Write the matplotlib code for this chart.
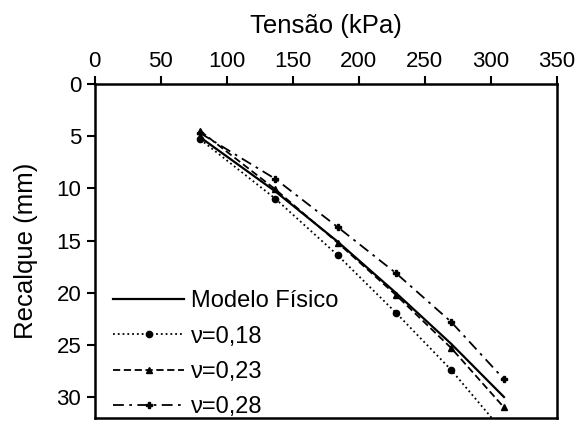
import numpy as np
import matplotlib
matplotlib.use("Agg")
import matplotlib.pyplot as plt

plt.rcParams['font.family'] = ['Liberation Sans', 'DejaVu Sans']

# tensão (kPa)
tensao = [80, 137, 184, 228, 270, 310]

# recalque (mm)
modelo_fisico = [5.1, 10.3, 15.1, 20.0, 24.9, 30.0]
nu_018 = [5.3, 11.0, 16.4, 21.9, 27.4, 33.4]
nu_023 = [4.5, 10.1, 15.2, 20.2, 25.3, 31.0]
nu_028 = [4.7, 9.1, 13.7, 18.1, 22.8, 28.3]

fig = plt.figure(figsize=(5.8, 4.29), dpi=100)
ax = fig.add_axes([0.163, 0.026, 0.797, 0.778])

ax.plot(tensao, modelo_fisico, '-', color='black', lw=1.6, label='Modelo Físico')
ax.plot(tensao, nu_018, ':', color='black', lw=1.3, marker='o', ms=4.5, label='ν=0,18')
ax.plot(tensao, nu_023, '--', color='black', lw=1.3, marker='^', ms=4, dashes=(4, 2), label='ν=0,23')
ax.plot(tensao, nu_028, '-.', color='black', lw=1.3, marker='P', ms=4, dashes=(6, 3, 1.5, 3), label='ν=0,28')

ax.set_xlim(0, 350)
ax.set_ylim(32, 0)
ax.set_xticks(np.arange(0, 351, 50))
ax.set_yticks(np.arange(0, 31, 5))

ax.xaxis.tick_top()
ax.xaxis.set_label_position('top')
ax.set_xlabel('Tensão (kPa)', fontsize=18.5, labelpad=13)
ax.set_ylabel('Recalque (mm)', fontsize=18.5, labelpad=13)
ax.tick_params(axis='both', labelsize=16, direction='out', length=6, width=1.5, color='black')
ax.tick_params(axis='x', pad=3)
for s in ax.spines.values():
    s.set_linewidth(1.8)

ax.legend(loc='lower left', bbox_to_anchor=(0.005, -0.05), frameon=False, fontsize=17,
          handlelength=3.0, handletextpad=0.3, labelspacing=0.56, borderaxespad=0.3)

fig.savefig('out.png', dpi=100)
